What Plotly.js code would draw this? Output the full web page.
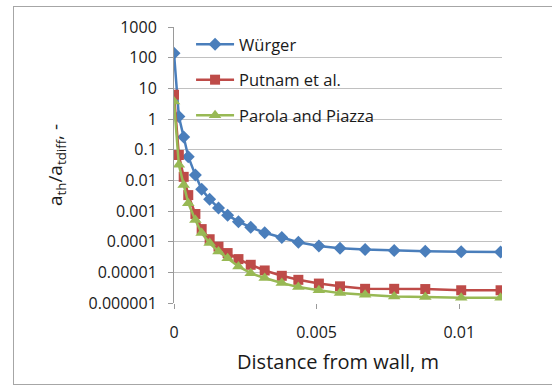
<!DOCTYPE html>
<html>
<head>
<meta charset="utf-8">
<script src="https://cdn.plot.ly/plotly-3.0.1.min.js"></script>
<style>
  html, body { margin: 0; padding: 0; background: #fff; }
  #wrap { position: relative; width: 552px; height: 387px; }
  #chart { width: 552px; height: 387px; }
  #frame { position: absolute; left: 13px; top: 6px; width: 540px; height: 379px;
           border: 1px solid #a6a6a6; pointer-events: none; box-sizing: border-box; }
</style>
</head>
<body>
<div id="wrap">
  <div id="chart"></div>
  <div id="frame"></div>
</div>
<script>
// Distance from wall, m
const distance = [0, 0.00017, 0.00034, 0.0005, 0.00075, 0.00097, 0.00125, 0.00156, 0.00188,
  0.00226, 0.00269, 0.00318, 0.00378, 0.00436, 0.00508, 0.00582, 0.0067, 0.00772,
  0.00881, 0.01007, 0.01145];

const wurger = [140, 1.2, 0.26, 0.059, 0.0148, 0.0051, 0.0024, 0.00126, 0.00073,
  0.00045, 0.000295, 0.000195, 0.000136, 0.0000955, 0.000072, 0.0000614, 0.0000552,
  0.0000512, 0.0000489, 0.0000466, 0.0000457];

const putnam = [6.2, 0.067, 0.013, 0.0033, 0.0008, 0.000257, 0.00012, 0.000069, 0.0000425,
  0.000027, 0.0000176, 0.0000115, 0.0000077, 0.0000057, 0.0000043, 0.0000035, 0.0000029,
  0.0000029, 0.00000285, 0.0000026, 0.0000026];

const parola = [3.7, 0.032, 0.0071, 0.0018, 0.00051, 0.00019, 0.00009, 0.000048, 0.000029,
  0.0000155, 0.0000094, 0.0000065, 0.0000045, 0.0000033, 0.0000026, 0.0000021, 0.00000186,
  0.00000164, 0.00000156, 0.00000148, 0.00000148];

const seriesNames = ["Würger", "Putnam et al.", "Parola and Piazza"];

const yTickVals = [1000, 100, 10, 1, 0.1, 0.01, 0.001, 0.0001, 0.00001, 0.000001];
const yTickText = ["1000", "100", "10", "1", "0.1", "0.01", "0.001", "0.0001", "0.00001", "0.000001"];
const xTickVals = [0, 0.005, 0.01];
const xTickText = ["0", "0.005", "0.01"];

const FONT = "Open Sans, DejaVu Sans, sans-serif";

const traces = [
  { x: distance, y: wurger, name: seriesNames[0], legendgroup: "a",
    mode: "lines+markers", line: { color: "#4a7ebb", width: 2.5 },
    marker: { symbol: "diamond", size: 10, color: "#4a7ebb" } },
  { x: distance, y: putnam, name: seriesNames[1], legendgroup: "b",
    mode: "lines+markers", line: { color: "#be4b48", width: 2.5 },
    marker: { symbol: "square", size: 10, color: "#be4b48" } },
  { x: distance, y: parola, name: seriesNames[2], legendgroup: "c",
    mode: "lines+markers", line: { color: "#98b954", width: 2.5 },
    marker: { symbol: "triangle-up", size: 11, color: "#98b954" } }
];

const layout = {
  width: 552, height: 387,
  margin: { l: 174, r: 50, t: 27, b: 84 },
  paper_bgcolor: "#fff", plot_bgcolor: "#fff",
  font: { family: FONT, size: 16, color: "#1a1a1a" },
  showlegend: true,
  legend: { x: 0.052, y: 1.0, xanchor: "left", yanchor: "top", itemwidth: 38,
            bgcolor: "rgba(255,255,255,0)", tracegroupgap: 11,
            font: { family: FONT, size: 16.5, color: "#1a1a1a" } },
  xaxis: {
    range: [0, 0.0115], tickvals: xTickVals, ticktext: xTickText,
    showgrid: false, zeroline: false, showline: false,
    ticks: "outside", ticklen: 5, tickcolor: "#9a9a9a", ticklabelstandoff: 10,
    tickfont: { family: FONT, size: 16, color: "#1a1a1a" },
    title: { text: "Distance from wall, m", standoff: 12,
             font: { family: FONT, size: 20, color: "#1a1a1a" } }
  },
  yaxis: {
    type: "log", range: [-6, 3], tickvals: yTickVals, ticktext: yTickText,
    showgrid: true, gridcolor: "#c0c0c0", gridwidth: 1, zeroline: false,
    showline: true, linecolor: "#9a9a9a", linewidth: 1,
    ticks: "outside", ticklen: 5, tickcolor: "#9a9a9a", ticklabelstandoff: 8,
    tickfont: { family: FONT, size: 16, color: "#1a1a1a" },
    title: { text: "a<sub>th</sub>/a<sub>tdiff</sub>, -", standoff: 20,
             font: { family: FONT, size: 19, color: "#1a1a1a" } }
  }
};

Plotly.newPlot("chart", traces, layout, { displayModeBar: false, staticPlot: true });
</script>
</body>
</html>
